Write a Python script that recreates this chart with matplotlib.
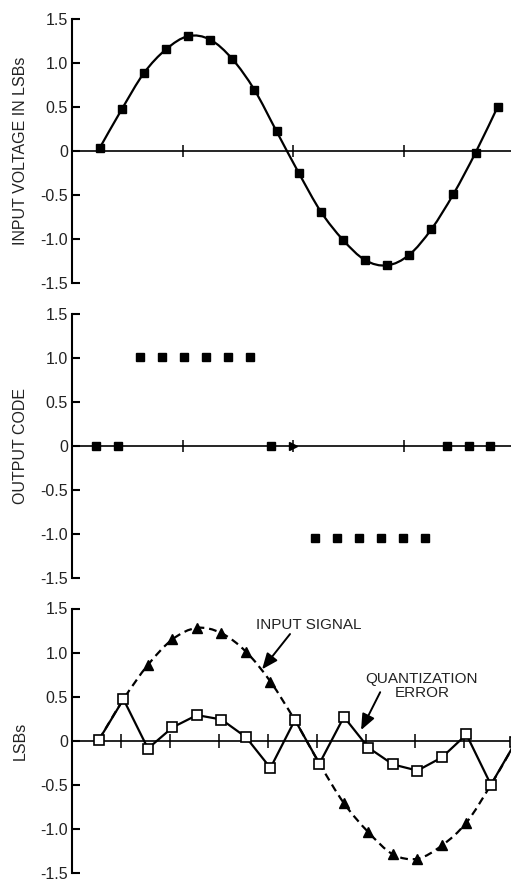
import numpy as np
import matplotlib
matplotlib.use("Agg")
import matplotlib.pyplot as plt
from matplotlib.path import Path
from matplotlib.patches import PathPatch

plt.rcParams['font.family'] = ['Liberation Sans', 'DejaVu Sans']

# ---------------- data ----------------
input_lsb = [0.03, 0.47, 0.88, 1.15, 1.30, 1.26, 1.04, 0.69, 0.22, -0.25,
             -0.69, -1.01, -1.24, -1.30, -1.18, -0.89, -0.49, -0.02, 0.50]
output_code = [0, 0, 1.02, 1.02, 1.02, 1.02, 1.02, 1.02, 0, 0,
               -1.04, -1.04, -1.04, -1.04, -1.04, -1.04, 0, 0, 0]
input_signal = [0.01, 0.47, 0.86, 1.15, 1.28, 1.22, 1.01, 0.67, 0.23, -0.26,
                -0.71, -1.04, -1.29, -1.34, -1.19, -0.93, -0.50, -0.02, 0.50]
quant_error = [0.01, 0.47, -0.09, 0.15, 0.29, 0.24, 0.04, -0.31, 0.235, -0.26,
               0.27, -0.08, -0.27, -0.34, -0.19, 0.07, -0.50, -0.02, 0.50]
ytick_vals = [-1.5, -1.0, -0.5, 0, 0.5, 1.0, 1.5]
ytick_labels = ['-1.5', '-1.0', '-0.5', '0', '0.5', '1.0', '1.5']
ylabels = ['INPUT VOLTAGE IN LSBs', 'OUTPUT CODE', 'LSBs']

n = np.arange(len(input_lsb))
x_top = 0.25 + 0.2 * n
x_mid = 0.22 + 0.198 * n
x_bot = 0.55 + 0.5 * n

# ---------------- figure ----------------
W, H = 511, 881
fig = plt.figure(figsize=(W / 100, H / 100), dpi=100)

def px_axes(top_px, bot_px):
    left = 72 / W
    return fig.add_axes([left, 1 - bot_px / H, 1 - left, (bot_px - top_px) / H])

ax1 = px_axes(18.5, 283)
ax2 = px_axes(314.3, 578.3)
ax3 = px_axes(608.5, 872.8)

TXT = '#222222'
FS = 11.5

def style(ax, xmax, xticks, ticklen, label):
    ax.set_xlim(0, xmax)
    ax.set_ylim(-1.5, 1.5)
    ax.spines['top'].set_visible(False)
    ax.spines['right'].set_visible(False)
    ax.spines['bottom'].set_position(('data', 0))
    ax.spines['bottom'].set_linewidth(1.2)
    ax.spines['left'].set_linewidth(1.5)
    ax.set_xticks(xticks)
    ax.set_xticklabels([])
    ax.tick_params(axis='x', direction='inout', length=ticklen, width=1.1)
    ax.set_yticks(ytick_vals)
    ax.set_yticklabels(ytick_labels)
    ax.tick_params(axis='y', direction='in', length=6, width=1.5,
                   labelsize=FS, labelcolor=TXT, pad=3)
    ax.set_ylabel(label, fontsize=FS, color=TXT)
    ax.yaxis.set_label_coords(-0.100, 0.5)
    ax.patch.set_visible(False)

style(ax1, 3.97, [1, 2, 3], 9, ylabels[0])
style(ax2, 3.97, [1, 2, 3], 9, ylabels[1])
style(ax3, 8.96, [1, 2, 3, 4, 5, 6, 7, 8], 10, ylabels[2])


def smooth_line(ax, x, y, **kw):
    """Draw a smooth curve through the data points (Catmull-Rom as Bezier)."""
    p = np.column_stack([x, y]).astype(float)
    ext = np.vstack([p[0], p, p[-1]])
    verts = [tuple(p[0])]
    codes = [Path.MOVETO]
    for i in range(len(p) - 1):
        p0, p1, p2, p3 = ext[i], ext[i + 1], ext[i + 2], ext[i + 3]
        c1 = p1 + (p2 - p0) / 6.0
        c2 = p2 - (p3 - p1) / 6.0
        verts += [tuple(c1), tuple(c2), tuple(p2)]
        codes += [Path.CURVE4] * 3
    patch = PathPatch(Path(verts, codes), fill=False, **kw)
    ax.add_patch(patch)
    return patch


# top panel: sampled input
smooth_line(ax1, x_top, input_lsb, edgecolor='black', lw=1.6, zorder=2)
ax1.plot(x_top, input_lsb, ls='none', marker='s', ms=6,
         mfc='black', mec='black', zorder=3)

# middle panel: output code
code = np.array(output_code)
normal = np.ones(len(code), bool)
normal[9] = False
ax2.plot(x_mid[normal], code[normal], ls='none', marker='s', ms=6,
         color='black', zorder=3)
ax2.plot(x_mid[~normal], code[~normal], ls='none', marker='>', ms=6,
         color='black', zorder=3)

# bottom panel: input signal and quantization error
sig = np.array(input_signal)
smooth_line(ax3, x_bot, sig, edgecolor='black', lw=1.6,
            linestyle=(0, (3.5, 2.2)), zorder=2)
tri = code != 0
ax3.plot(x_bot[tri], sig[tri], ls='none', marker='^', ms=6.5,
         color='black', zorder=3)
ax3.plot(x_bot, quant_error, color='black', lw=1.6, marker='s', ms=7,
         mfc='white', mec='black', mew=1.2, zorder=4)

arrow = dict(arrowstyle='-|>,head_length=0.6,head_width=0.25', color='black',
             lw=1.4, mutation_scale=16, shrinkA=0, shrinkB=0)
ax3.text(4.84, 1.31, 'INPUT SIGNAL', ha='center', va='center',
         fontsize=FS - 0.5, color=TXT)
ax3.annotate('', xy=(3.88, 0.81), xytext=(4.45, 1.21), arrowprops=arrow)
ax3.text(7.14, 0.62, 'QUANTIZATION\nERROR', ha='center', va='center',
         fontsize=FS - 0.5, color=TXT, linespacing=1.05)
ax3.annotate('', xy=(5.90, 0.12), xytext=(6.29, 0.55), arrowprops=arrow)

fig.savefig('out.png', dpi=100)
